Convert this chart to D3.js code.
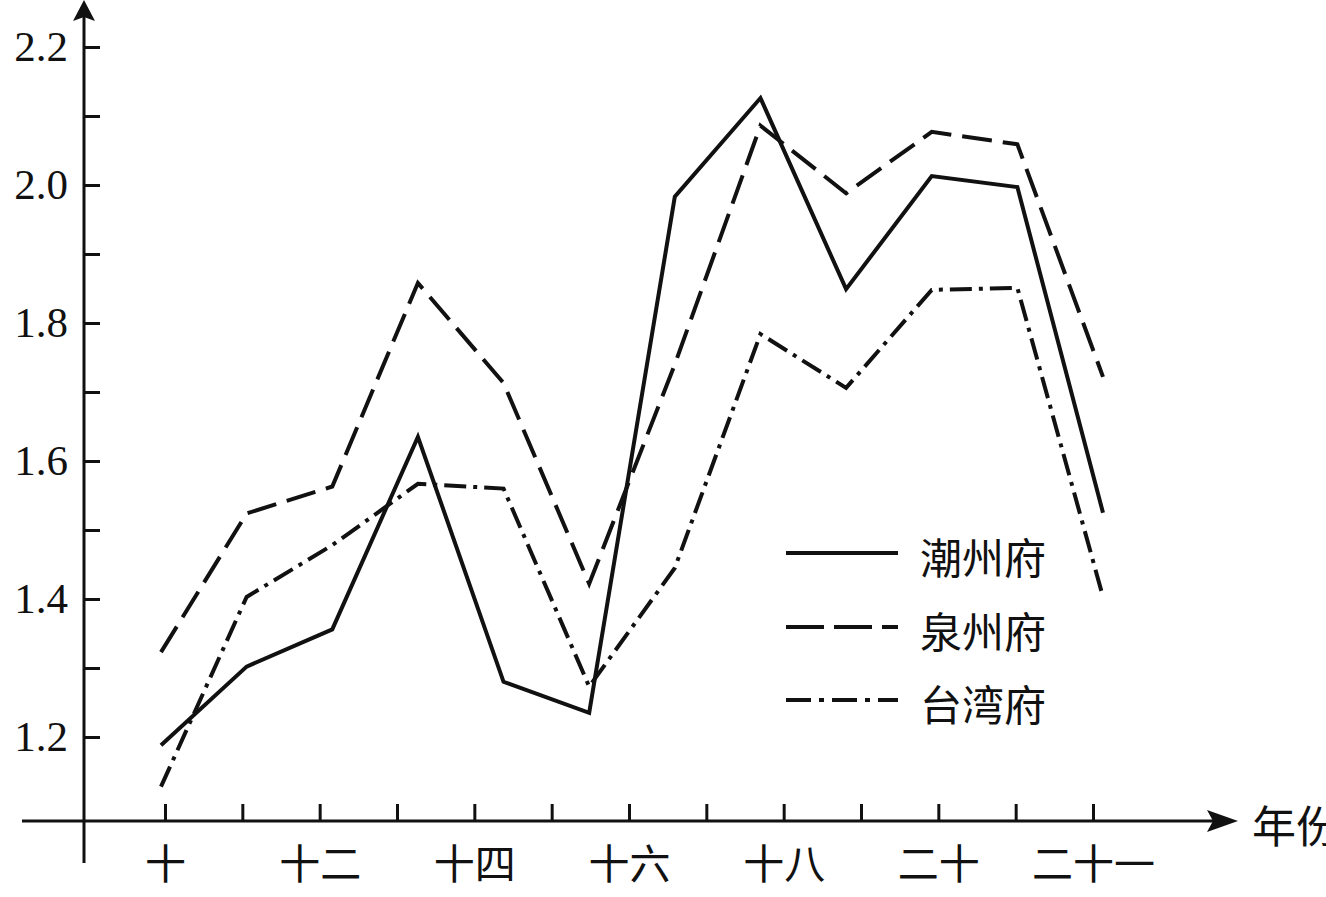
<!DOCTYPE html>
<html><head><meta charset="utf-8">
<script src="https://cdn.jsdelivr.net/npm/d3@7"></script>
<style>html,body{margin:0;padding:0;background:#fff;overflow:hidden}</style>
</head><body>
<svg id="chart" width="1326" height="897"></svg>
<script>
// ---- data ----
const periods = ["1","2","3","4","5","6","7","8","9","10","11","12"];
const chaozhou = [1.188, 1.302, 1.356, 1.635, 1.280, 1.235, 1.983, 2.126, 1.849, 2.013, 1.997, 1.525];
const quanzhou = [1.323, 1.524, 1.563, 1.858, 1.713, 1.422, 1.740, 2.086, 1.988, 2.077, 2.059, 1.722];
const taiwan   = [1.128, 1.403, 1.478, 1.567, 1.560, 1.273, 1.445, 1.784, 1.706, 1.848, 1.851, 1.403];
const seriesNames = ["潮州府", "泉州府", "台湾府"];
const xTickKeys = ["0","1","2","3","4","5","6","7","8","9","10","11","12"];
const xTickLabels = ["十","","十二","","十四","","十六","","十八","","二十","","二十一"];
const yTicks = [1.2, 1.3, 1.4, 1.5, 1.6, 1.7, 1.8, 1.9, 2.0, 2.1, 2.2];
const yLabelTicks = [1.2, 1.4, 1.6, 1.8, 2.0, 2.2];
const xAxisTitle = "年份";

// ---- layout ----
const axisX = 84, axisY = 821;
const svg = d3.select("#chart");
const y = d3.scaleLinear().domain([1.2, 2.2]).range([737, 47]);
const x = d3.scalePoint().domain(periods).range([161, 1103]);
const xt = d3.scalePoint().domain(xTickKeys).range([165, 1093]);

const serif = "'Liberation Serif','Times New Roman',serif";
const cjk = "'Noto Sans CJK SC','Noto Sans CJK JP',sans-serif";

// Y axis
const yAxis = d3.axisLeft(y).tickValues(yTicks).tickSize(-16).tickPadding(16)
  .tickFormat(d => yLabelTicks.some(v => Math.abs(v - d) < 1e-9) ? d3.format(".1f")(d) : "");
const gy = svg.append("g").attr("transform", `translate(${axisX},0)`).call(yAxis);
gy.select(".domain").remove();
gy.selectAll(".tick line").attr("stroke", "#111").attr("stroke-width", 3);
gy.selectAll(".tick text").attr("fill", "#111").style("font-family", serif).style("font-size", "43px");
svg.append("line").attr("x1", axisX).attr("x2", axisX).attr("y1", 863).attr("y2", 14)
  .attr("stroke", "#111").attr("stroke-width", 3);
svg.append("path").attr("d", `M${axisX},0 L${axisX+11},21 L${axisX},17 L${axisX-11},21 Z`).attr("fill", "#111");

// X axis
const xAxis = d3.axisBottom(xt).tickSize(-17).tickFormat((d, i) => xTickLabels[i]);
const gx = svg.append("g").attr("transform", `translate(0,${axisY})`).call(xAxis);
gx.select(".domain").remove();
gx.selectAll(".tick line").attr("stroke", "#111").attr("stroke-width", 3);
gx.selectAll(".tick text").attr("fill", "#111").attr("y", 40).attr("dy", null)
  .attr("dominant-baseline", "central")
  .style("font-family", cjk).style("font-size", "41px");
svg.append("line").attr("x1", 22).attr("x2", 1215).attr("y1", axisY).attr("y2", axisY)
  .attr("stroke", "#111").attr("stroke-width", 3);
svg.append("path").attr("d", `M1238,${axisY} L1207,${axisY-11} L1213,${axisY} L1207,${axisY+11} Z`).attr("fill", "#111");
svg.append("text").attr("x", 1252).attr("y", axisY + 3).attr("dominant-baseline", "central")
  .style("font-family", cjk).style("font-size", "44px").attr("fill", "#111").text(xAxisTitle);

// Series
const dashes = [null, "30,11", "22,7,4,7"];
const seriesData = [chaozhou, quanzhou, taiwan];
const line = d3.line().x((d, i) => x(periods[i])).y(d => y(d));
seriesData.forEach((vals, k) => {
  svg.append("path").datum(vals).attr("d", line)
    .attr("fill", "none").attr("stroke", "#111").attr("stroke-width", 4)
    .attr("stroke-linejoin", "miter").attr("stroke-dasharray", dashes[k]);
});

// Legend
const legendY = [553, 627, 700];
const lg = svg.append("g");
seriesNames.forEach((name, k) => {
  lg.append("line").attr("x1", 786).attr("x2", 898).attr("y1", legendY[k]).attr("y2", legendY[k])
    .attr("stroke", "#111").attr("stroke-width", 4).attr("stroke-dasharray", dashes[k] ? (k === 1 ? "38,10" : "25,8,5,8") : null);
  lg.append("text").attr("x", 920).attr("y", legendY[k] + 2).attr("dominant-baseline", "central")
    .style("font-family", cjk).style("font-size", "42px").attr("fill", "#111").text(name);
});
</script>
</body></html>
